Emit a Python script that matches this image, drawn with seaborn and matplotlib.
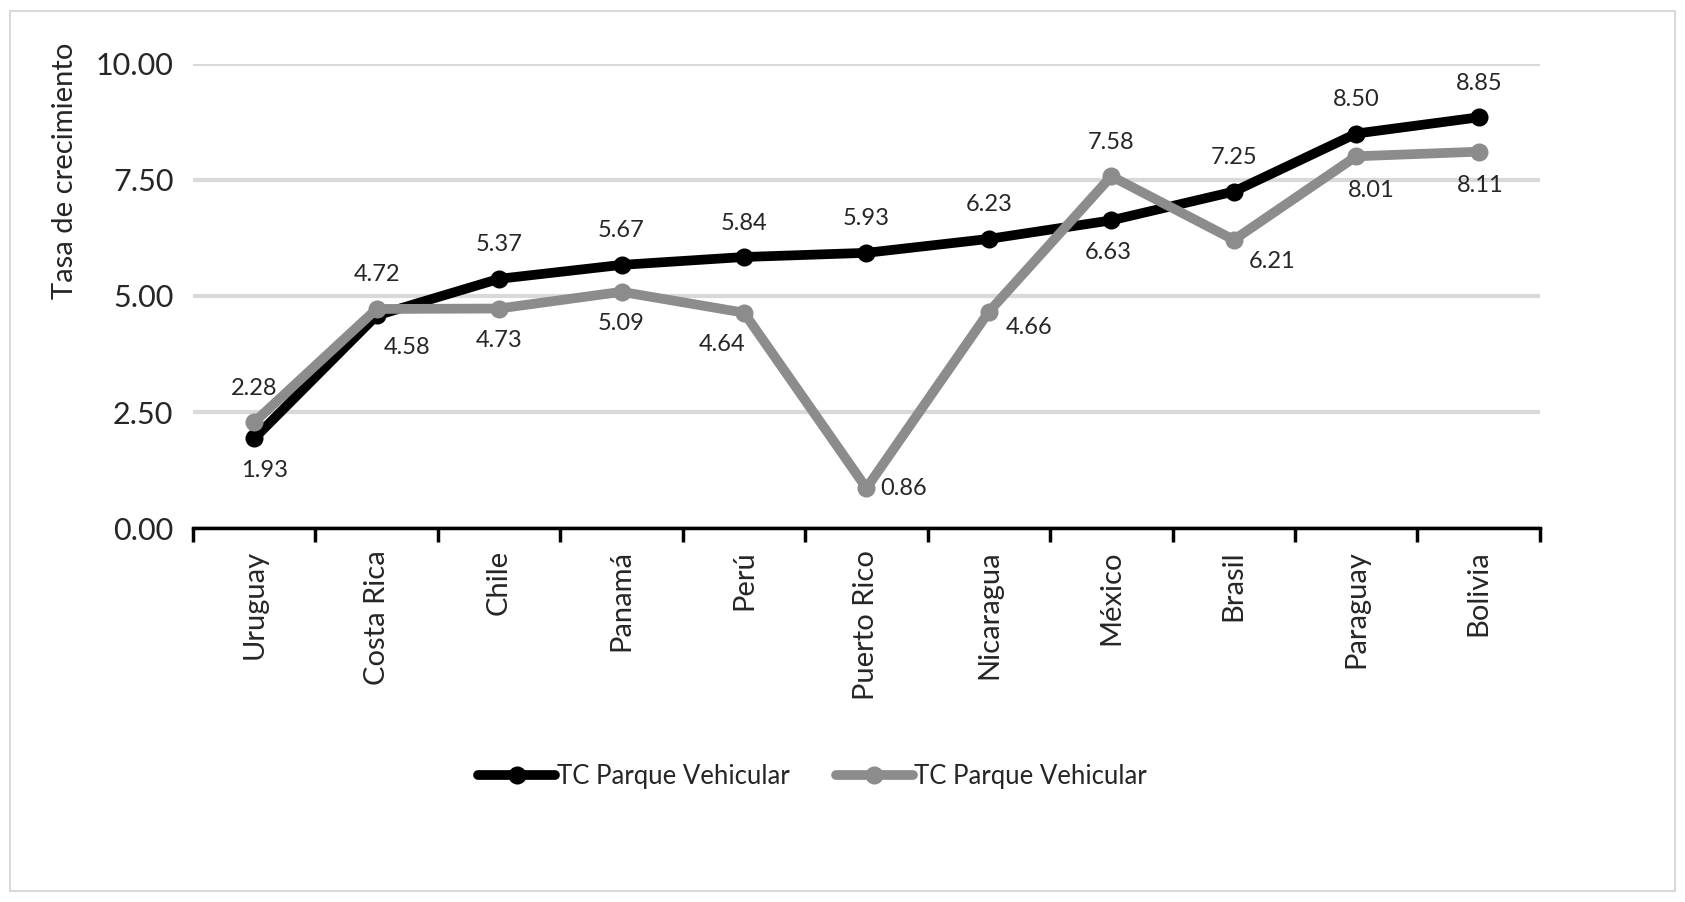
import matplotlib
matplotlib.use("Agg")
import matplotlib.pyplot as plt
import seaborn as sns
import pandas as pd
from matplotlib.patches import Rectangle

# Data
countries = ["Uruguay", "Costa Rica", "Chile", "Panamá", "Perú", "Puerto Rico",
             "Nicaragua", "México", "Brasil", "Paraguay", "Bolivia"]
serie_negra = [1.93, 4.58, 5.37, 5.67, 5.84, 5.93, 6.23, 6.63, 7.25, 8.50, 8.85]
serie_gris = [2.28, 4.72, 4.73, 5.09, 4.64, 0.86, 4.66, 7.58, 6.21, 8.01, 8.11]
serie_label = "TC Parque Vehicular"
y_ticks = [0.0, 2.5, 5.0, 7.5, 10.0]

# label offsets (pixels) for the lower label of each pair
low_dx = [10, 30, 0, 0, -22, 37, 40, -3, 38, 15, 2]
low_dy = [-32, -32, -32, -32, -32, 0, -16, -32, -22, -34, -34]

sns.set_theme(style="white")
plt.rcParams["font.family"] = ["Lato", "DejaVu Sans"]

df = pd.DataFrame({"pais": countries, "negra": serie_negra, "gris": serie_gris})

fig = plt.figure(figsize=(16.85, 9.02), dpi=100)
ax = fig.add_axes([0.1145, 0.4146, 0.7994, 0.5145])

sns.lineplot(data=df, x="pais", y="negra", ax=ax, color="black", lw=7,
             marker="o", markersize=13, markeredgewidth=0, sort=False,
             label=serie_label, zorder=3)
sns.lineplot(data=df, x="pais", y="gris", ax=ax, color="#8c8c8c", lw=7,
             marker="o", markersize=13, markeredgewidth=0, sort=False,
             label=serie_label, zorder=4)

ax.set_xlim(-0.5, len(countries) - 0.5)
ax.set_ylim(0, 10)
ax.set_yticks(y_ticks)
ax.set_yticklabels([f"{v:.2f}" for v in y_ticks], fontsize=22)
ax.yaxis.grid(True, color="#d9d9d9", lw=3)
ax.set_axisbelow(True)
ax.tick_params(axis="y", length=0, pad=14)

ax.set_xticks(range(len(countries)))
ax.set_xticklabels(countries, rotation=90, fontsize=21)
ax.tick_params(axis="x", length=0, pad=16)
# tick marks between categories
ax.set_xticks([i - 0.5 for i in range(len(countries) + 1)], minor=True)
ax.tick_params(axis="x", which="minor", length=10, width=2.5, color="black",
               direction="out", bottom=True)

for s in ["top", "right", "left"]:
    ax.spines[s].set_visible(False)
ax.spines["bottom"].set_color("black")
ax.spines["bottom"].set_linewidth(2.5)

ax.set_xlabel("")
ax.set_ylabel("Tasa de crecimiento", fontsize=21, labelpad=16)
ax.yaxis.set_label_coords(-0.085, 0.77)

# data labels: higher value above, lower value below
for i, (a, b) in enumerate(zip(serie_negra, serie_gris)):
    hi, lo = (a, b) if a >= b else (b, a)
    ax.annotate(f"{hi:.2f}", (i, hi), xytext=(0, 34), textcoords="offset pixels",
                ha="center", va="center", fontsize=17)
    ax.annotate(f"{lo:.2f}", (i, lo), xytext=(low_dx[i], low_dy[i]),
                textcoords="offset pixels", ha="center", va="center", fontsize=17)

ax.legend(loc="center", bbox_to_anchor=(0.46, -0.535), ncol=2, frameon=False,
          fontsize=18.5, handlelength=3.0, columnspacing=1.8, handletextpad=0.05)

fig.patches.append(Rectangle((0.006, 0.012), 0.988, 0.976, transform=fig.transFigure,
                             fill=False, edgecolor="#d9d9d9", lw=1.5))

fig.savefig("out.png", dpi=100)
